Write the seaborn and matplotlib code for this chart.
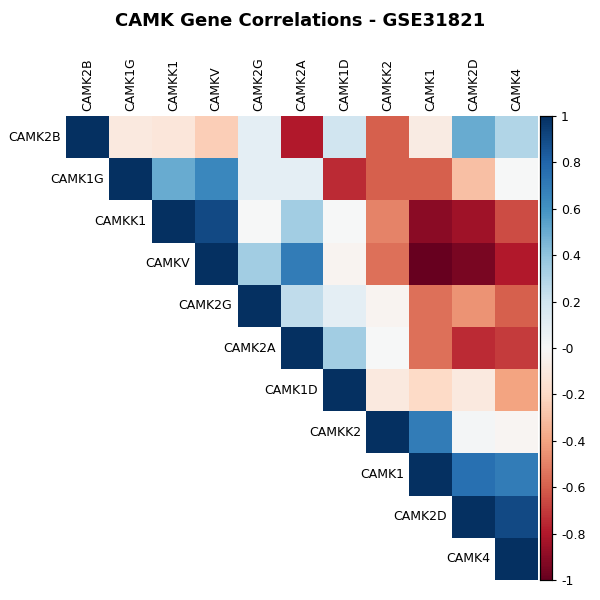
import numpy as np
import pandas as pd
import matplotlib
matplotlib.use("Agg")
import matplotlib.pyplot as plt
import seaborn as sns

genes = ["CAMK2B","CAMK1G","CAMKK1","CAMKV","CAMK2G","CAMK2A","CAMK1D","CAMKK2","CAMK1","CAMK2D","CAMK4"]
rows = [
    [1, -0.1, -0.12, -0.25, 0.1, -0.8, 0.2, -0.6, -0.08, 0.5, 0.3],
    [1, 0.5, 0.65, 0.1, 0.1, -0.75, -0.6, -0.6, -0.3, 0.0],
    [1, 0.9, 0.0, 0.35, 0.0, -0.5, -0.9, -0.85, -0.65],
    [1, 0.35, 0.7, -0.03, -0.55, -1.0, -0.95, -0.8],
    [1, 0.25, 0.1, -0.03, -0.55, -0.45, -0.6],
    [1, 0.35, 0.0, -0.55, -0.75, -0.7],
    [1, -0.1, -0.2, -0.1, -0.4],
    [1, 0.7, 0.02, -0.02],
    [1, 0.75, 0.7],
    [1, 0.9],
    [1],
]
n = len(genes)
M = np.zeros((n, n))
for i, r in enumerate(rows):
    for k, v in enumerate(r):
        M[i, i + k] = v
        M[i + k, i] = v
df = pd.DataFrame(M, index=genes, columns=genes)
mask = np.tril(np.ones((n, n), dtype=bool), -1)

fig = plt.figure(figsize=(6, 6), dpi=100)
ax = fig.add_axes([66/600, 1-580/600, 472/600, 464/600])
cax = fig.add_axes([540/600, 1-580/600, 12/600, 464/600])
sns.heatmap(df, mask=mask, cmap="RdBu", vmin=-1, vmax=1, ax=ax, cbar_ax=cax,
            cbar_kws={"ticks": np.round(np.arange(-1, 1.01, 0.2), 1)})
ax.xaxis.tick_top()
ax.set_xticks(np.arange(n) + 0.5)
ax.set_xticklabels(genes, rotation=90, fontsize=9)
ax.tick_params(length=0)
ax.set_yticks([])
ax.set_xlabel(""); ax.set_ylabel("")
for i, g in enumerate(genes):
    ax.text(i - 0.12, i + 0.5, g, ha="right", va="center", fontsize=9)
cax.set_yticklabels([f"{t:g}" for t in np.round(np.arange(-1, 1.01, 0.2), 1)], fontsize=9)
cax.tick_params(length=3)
for s in cax.spines.values():
    s.set_visible(True); s.set_color("black"); s.set_linewidth(0.8)
fig.text(0.5, 0.965, "CAMK Gene Correlations - GSE31821", ha="center", va="center",
         fontsize=13, fontweight="bold")
fig.savefig("out.png", dpi=100)
